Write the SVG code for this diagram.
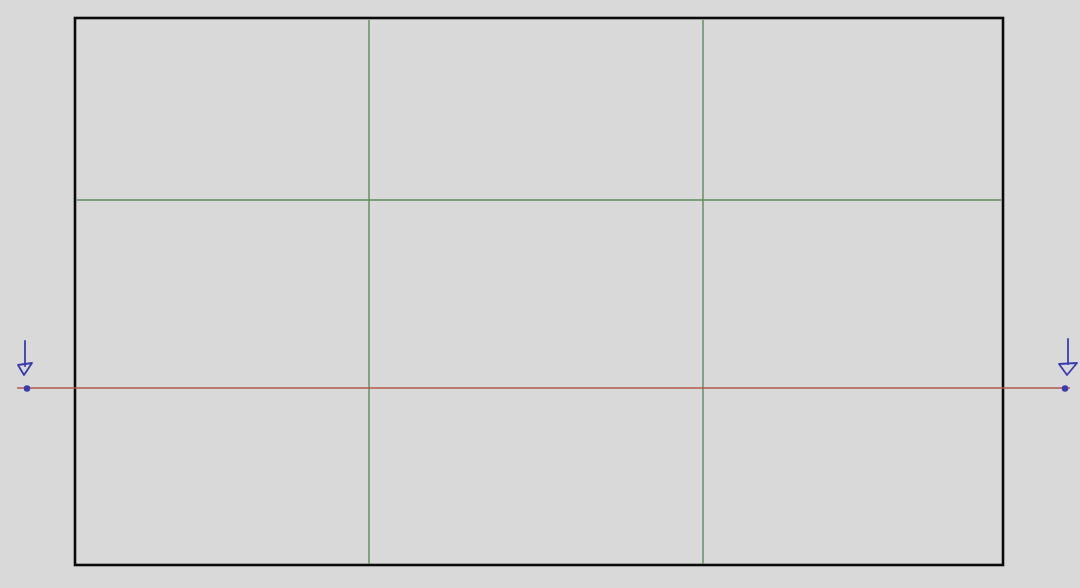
<svg xmlns="http://www.w3.org/2000/svg" width="1080" height="588" viewBox="0 0 1080 588">
<style>
.frame{fill:none;stroke:#0a0a0a;stroke-width:2.6}
.grid{stroke:#5b8a5e;stroke-width:1.4;fill:none}
.cut{stroke:#b0584a;stroke-width:1.6;fill:none}
.mark{stroke:#3b3bb0;stroke-width:1.8;fill:none;stroke-linejoin:round;stroke-linecap:round}
.dot{fill:#3b3bb0}
</style>
<rect width="1080" height="588" fill="#d9d9d9"/>
<g id="frame"><rect class="frame" x="75" y="18" width="928" height="547"/></g>
<g id="connectors">
<line class="grid" x1="369" y1="20" x2="369" y2="564"/>
<line class="grid" x1="703" y1="20" x2="703" y2="564"/>
<line class="grid" x1="77" y1="200" x2="1001" y2="200"/>
<line class="cut" x1="17" y1="388" x2="1070" y2="388"/>
</g>
<g id="marker-left">
<line class="mark" x1="25" y1="341" x2="25" y2="366"/>
<path class="mark" d="M18 365 L32 363 L24 375 Z"/>
<circle class="dot" cx="27" cy="388.5" r="3.2"/>
</g>
<g id="marker-right">
<line class="mark" x1="1068" y1="339" x2="1068" y2="364"/>
<path class="mark" d="M1059 364 L1077 363 L1067 375 Z"/>
<circle class="dot" cx="1065" cy="388.5" r="3.2"/>
</g>
</svg>
